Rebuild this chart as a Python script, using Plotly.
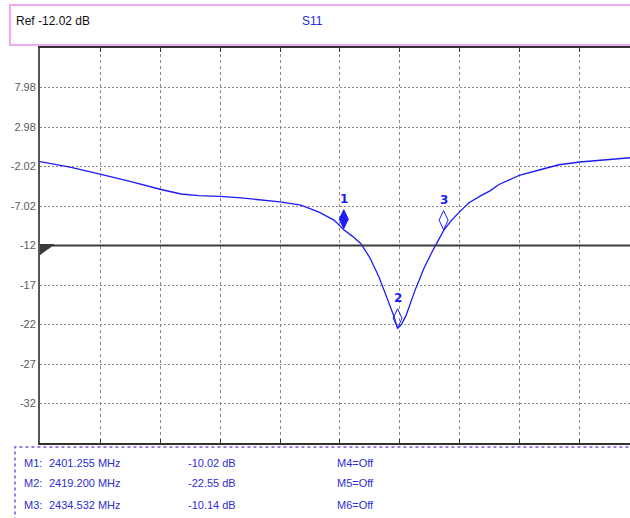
import plotly.graph_objects as go

# S11 sweep (MHz, dB)
freq_mhz = [2300, 2310, 2320, 2330, 2340, 2347, 2353, 2360, 2367, 2373, 2380, 2387,
            2393, 2398, 2401.255, 2404, 2407, 2410, 2413, 2416, 2418, 2419.2, 2420.5,
            2422, 2425, 2428, 2431, 2434.532, 2437, 2440, 2443, 2447, 2450, 2453,
            2460, 2467, 2473, 2480, 2487, 2497]
s11_db = [-1.4, -2.1, -3.0, -3.9, -4.9, -5.5, -5.7, -5.8, -6.0, -6.2, -6.5, -6.9,
          -7.8, -8.8, -10.02, -10.8, -11.8, -13.6, -16.0, -19.0, -21.0, -22.55, -22.0,
          -20.9, -17.7, -14.9, -12.6, -10.14, -8.9, -7.7, -6.6, -5.7, -5.1, -4.3,
          -3.1, -2.4, -1.8, -1.45, -1.2, -0.9]

# markers
marker_ids = ["1", "2", "3"]
marker_freq = [2401.255, 2419.200, 2434.532]
marker_db = [-10.02, -22.55, -10.14]
marker_filled = [True, False, False]
other_markers = ["M4=Off", "M5=Off", "M6=Off"]

ref_level = -12.02
y_tick_vals = [7.98, 2.98, -2.02, -7.02, -12.02, -17.02, -22.02, -27.02, -32.02]
y_tick_text = ["7.98", "2.98", "-2.02", "-7.02", "-12", "-17", "-22", "-27", "-32"]
x_start, x_stop = 2300, 2496.67
y_bottom, y_top = -37.02, 12.98

FONT = "Liberation Sans, Arial, sans-serif"
BLUE = "#1c1cf5"
TABLE_BLUE = "#2e2ed2"

fig = go.Figure()
fig.add_trace(go.Scatter(x=freq_mhz, y=s11_db, mode="lines",
                         line=dict(color=BLUE, width=1.3), hoverinfo="skip"))

shapes = []
annotations = []

# reference level line and its left-edge pointer
shapes.append(dict(type="line", xref="paper", yref="y", x0=0, x1=1,
                   y0=ref_level, y1=ref_level, line=dict(color="#3a3a3a", width=2)))
shapes.append(dict(type="path", xref="x", yref="y", xsizemode="pixel", ysizemode="pixel",
                   xanchor=x_start, yanchor=ref_level,
                   path="M0,1 L14,1 L0,-9 Z", fillcolor="#3a3a3a",
                   line=dict(color="#3a3a3a", width=1)))

# marker diamonds (tip sits on the trace point)
for mid, f, d, filled in zip(marker_ids, marker_freq, marker_db, marker_filled):
    shapes.append(dict(type="path", xref="x", yref="y", xsizemode="pixel", ysizemode="pixel",
                       xanchor=f, yanchor=d,
                       path="M0,1 L4.5,10.5 L0,20 L-4.5,10.5 Z",
                       fillcolor=BLUE if filled else "rgba(0,0,0,0)",
                       line=dict(color=BLUE, width=1)))
    annotations.append(dict(x=f, y=d, xref="x", yref="y", text="<b>%s</b>" % mid,
                            showarrow=False, yshift=31, xshift=0,
                            font=dict(family="DejaVu Sans, Verdana, sans-serif",
                                      size=12, color=BLUE)))

# header box
shapes.append(dict(type="rect", xref="paper", yref="paper", x0=-0.051, x1=1.05,
                   y0=1.0076, y1=1.109, line=dict(color="#f0a8f0", width=2),
                   fillcolor="white", layer="below"))
annotations.append(dict(x=-0.0441, y=1.0684, xref="paper", yref="paper", text="Ref -12.02 dB",
                        showarrow=False, xanchor="left", yanchor="middle",
                        font=dict(family=FONT, size=12, color="#111111")))
annotations.append(dict(x=0.4407, y=1.0684, xref="paper", yref="paper", text="S11",
                        showarrow=False, xanchor="left", yanchor="middle",
                        font=dict(family=FONT, size=12, color="#2a2ae0")))

# marker readout table
shapes.append(dict(type="rect", xref="paper", yref="paper", x0=-0.0424, x1=1.05,
                   y0=-0.32, y1=-0.0101, line=dict(color="#7b50e0", width=1.5, dash="dot")))
row_y = [-0.0506, -0.1013, -0.157]
for i, (f, d, off) in enumerate(zip(marker_freq, marker_db, other_markers)):
    for xp, txt in [(-0.0305, "M%d:" % (i + 1)),
                    (0.0119, "%.3f MHz" % f),
                    (0.2475, "%.2f dB" % d),
                    (0.5, off)]:
        annotations.append(dict(x=xp, y=row_y[i], xref="paper", yref="paper", text=txt,
                                showarrow=False, xanchor="left", yanchor="middle",
                                font=dict(family=FONT, size=11, color=TABLE_BLUE)))

fig.update_layout(
    width=630, height=518,
    margin=dict(l=40, r=0, t=48, b=75),
    paper_bgcolor="white", plot_bgcolor="white",
    showlegend=False,
    shapes=shapes, annotations=annotations,
    xaxis=dict(range=[x_start, x_stop], showticklabels=False,
               tickmode="linear", tick0=2300, dtick=20,
               ticks="inside", ticklen=4, tickcolor="#333333", tickwidth=1,
               showline=True, linecolor="#333333", linewidth=2, mirror="ticks",
               showgrid=True, gridcolor="#8a8a8a", gridwidth=1, griddash="3px,3px",
               zeroline=False),
    yaxis=dict(range=[y_bottom, y_top], tickmode="array",
               tickvals=y_tick_vals, ticktext=y_tick_text, ticks="",
               tickfont=dict(family=FONT, size=11, color="#5a5a5a"),
               showline=True, linecolor="#555555", linewidth=2, mirror=False,
               showgrid=True, gridcolor="#8a8a8a", gridwidth=1, griddash="2px,2px",
               zeroline=False),
)

fig.write_html("out.html")
